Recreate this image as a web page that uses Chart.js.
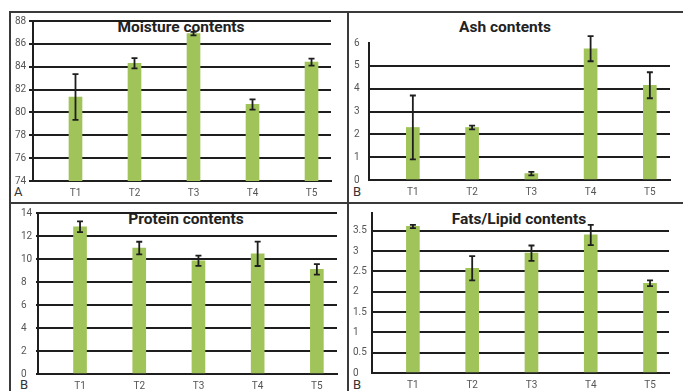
<!DOCTYPE html>
<html>
<head>
<meta charset="utf-8">
<script src="https://cdn.jsdelivr.net/npm/chart.js@4"></script>
<style>
  html, body { margin: 0; padding: 0; background: #fff; }
  body { position: relative; width: 683px; height: 391px; overflow: hidden; font-family: Roboto, sans-serif; }
  canvas { position: absolute; left: 0; top: 0; }
  .line { position: absolute; background: #3a3a3a; }
  .title { position: absolute; font-weight: bold; font-size: 15.5px; color: #222; white-space: nowrap; transform: translateX(-50%); line-height: 16px; }
  .tag { position: absolute; font-size: 13px; color: #333; line-height: 13px; }
</style>
</head>
<body>
<div class="line" style="left:9px;top:11px;width:674px;height:1.5px"></div>
<div class="line" style="left:9px;top:11px;width:1.5px;height:380px"></div>
<div class="line" style="left:347px;top:11px;width:1.5px;height:380px"></div>
<div class="line" style="left:9px;top:202px;width:674px;height:1.5px"></div>

<div class="title" style="left:181px;top:19px">Moisture contents</div>
<div class="title" style="left:505px;top:19px">Ash contents</div>
<div class="title" style="left:186px;top:211px">Protein contents</div>
<div class="title" style="left:519px;top:211px">Fats/Lipid contents</div>

<div class="tag" style="left:14px;top:185px">A</div>
<div class="tag" style="left:353px;top:185px">B</div>
<div class="tag" style="left:20px;top:378px">B</div>
<div class="tag" style="left:353px;top:378px">B</div>

<canvas id="moisture" width="683" height="391"></canvas>
<canvas id="ash" width="683" height="391"></canvas>
<canvas id="protein" width="683" height="391"></canvas>
<canvas id="fats" width="683" height="391"></canvas>

<script>
const treatments = ["T1", "T2", "T3", "T4", "T5"];

const moisture = [81.35, 84.3, 86.9, 80.7, 84.4];
const moistureErr = [2.0, 0.45, 0.15, 0.45, 0.3];

const ash = [2.3, 2.3, 0.28, 5.75, 4.15];
const ashErr = [1.4, 0.08, 0.08, 0.55, 0.57];

const protein = [12.8, 10.95, 9.85, 10.45, 9.1];
const proteinErr = [0.47, 0.55, 0.44, 1.06, 0.45];

const fats = [3.61, 2.58, 2.95, 3.4, 2.21];
const fatsErr = [0.04, 0.3, 0.19, 0.25, 0.07];

const barGreen = '#a1c45a';
const ink = '#1e1e1e';

// draws the +/- bars on top of each column
const errorBars = {
    id: 'errorBars',
    afterDatasetsDraw(chart, args, opts) {
        const errs = opts.errors;
        if (!errs) return;
        const meta = chart.getDatasetMeta(0);
        const y = chart.scales.y;
        const pts = chart.data.datasets[0].data;
        const ctx = chart.ctx;
        ctx.save();
        ctx.strokeStyle = ink;
        ctx.lineWidth = 1.8;
        meta.data.forEach((bar, i) => {
            const v = pts[i].y;
            const hi = y.getPixelForValue(v + errs[i]);
            const lo = y.getPixelForValue(v - errs[i]);
            const x = bar.x;
            ctx.beginPath();
            ctx.moveTo(x, hi); ctx.lineTo(x, lo);
            ctx.moveTo(x - 3, hi); ctx.lineTo(x + 3, hi);
            ctx.moveTo(x - 3, lo); ctx.lineTo(x + 3, lo);
            ctx.stroke();
        });
        ctx.restore();
    }
};

function makePanel(id, values, errors, p) {
    const ctx = document.getElementById(id).getContext('2d');
    // treatments sit at x = 1..5 on a linear axis so the left gap can be wider than the right one
    const points = values.map((v, i) => ({ x: i + 1, y: v }));
    return new Chart(ctx, {
        type: 'bar',
        data: {
            datasets: [{
                data: points,
                backgroundColor: barGreen,
                barThickness: 13
            }]
        },
        options: {
            responsive: false,
            animation: false,
            layout: { padding: p.padding },
            plugins: {
                legend: { display: false },
                tooltip: { enabled: false },
                errorBars: { errors: errors }
            },
            scales: {
                x: {
                    type: 'linear',
                    offset: false,
                    min: p.xMin,
                    max: p.xMax,
                    afterFit: s => { s.height = p.xHeight; },
                    afterBuildTicks: s => {
                        s.ticks = treatments.map((_, i) => ({ value: i + 1 }));
                    },
                    grid: { display: false, drawTicks: false },
                    border: { display: true, color: ink, width: 2 },
                    ticks: {
                        autoSkip: false,
                        maxRotation: 0,
                        callback: v => treatments[Math.round(v) - 1],
                        color: '#555',
                        font: { family: 'Roboto', size: 10 },
                        padding: p.xPad
                    }
                },
                y: {
                    min: p.min,
                    max: p.max,
                    afterFit: s => { s.width = p.yWidth; },
                    afterBuildTicks: s => {
                        s.ticks = s.ticks.filter(t => {
                            const k = (t.value - p.min) / p.step;
                            return Math.abs(k - Math.round(k)) < 1e-6;
                        });
                    },
                    border: { display: true, color: ink, width: 2 },
                    grid: {
                        color: c => (c.tick && p.hideTop && Math.abs(c.tick.value - p.max) < 1e-6) ? 'rgba(0,0,0,0)' : ink,
                        lineWidth: 2,
                        drawTicks: p.tickLen > 0,
                        tickLength: p.tickLen
                    },
                    ticks: {
                        stepSize: p.step,
                        crossAlign: 'far',
                        callback: v => String(Math.round(v * 10) / 10),
                        color: '#555',
                        font: { family: 'Roboto', size: 10 }
                    }
                }
            }
        },
        plugins: [errorBars]
    });
}

makePanel('moisture', moisture, moistureErr, {
    min: 74, max: 88, step: 2, hideTop: false, tickLen: 4,
    xMin: 0.28, xMax: 5.33,
    yWidth: 18, xHeight: 20, xPad: 6,
    padding: { left: 15, top: 21, right: 352, bottom: 190 }
});

makePanel('ash', ash, ashErr, {
    min: 0, max: 6, step: 1, hideTop: true, tickLen: 0,
    xMin: 0.26, xMax: 5.34,
    yWidth: 15, xHeight: 20, xPad: 6,
    padding: { left: 354, top: 43, right: 13, bottom: 191 }
});

makePanel('protein', protein, proteinErr, {
    min: 0, max: 14, step: 2, hideTop: false, tickLen: 2,
    xMin: 0.29, xMax: 5.34,
    yWidth: 17, xHeight: 17, xPad: 6,
    padding: { left: 21, top: 213, right: 346, bottom: 0 }
});

makePanel('fats', fats, fatsErr, {
    min: 0, max: 3.94, step: 0.5, hideTop: true, tickLen: 0,
    xMin: 0.31, xMax: 5.32,
    yWidth: 19, xHeight: 17, xPad: 6,
    padding: { left: 353, top: 213, right: 14, bottom: 1 }
});
</script>
</body>
</html>
